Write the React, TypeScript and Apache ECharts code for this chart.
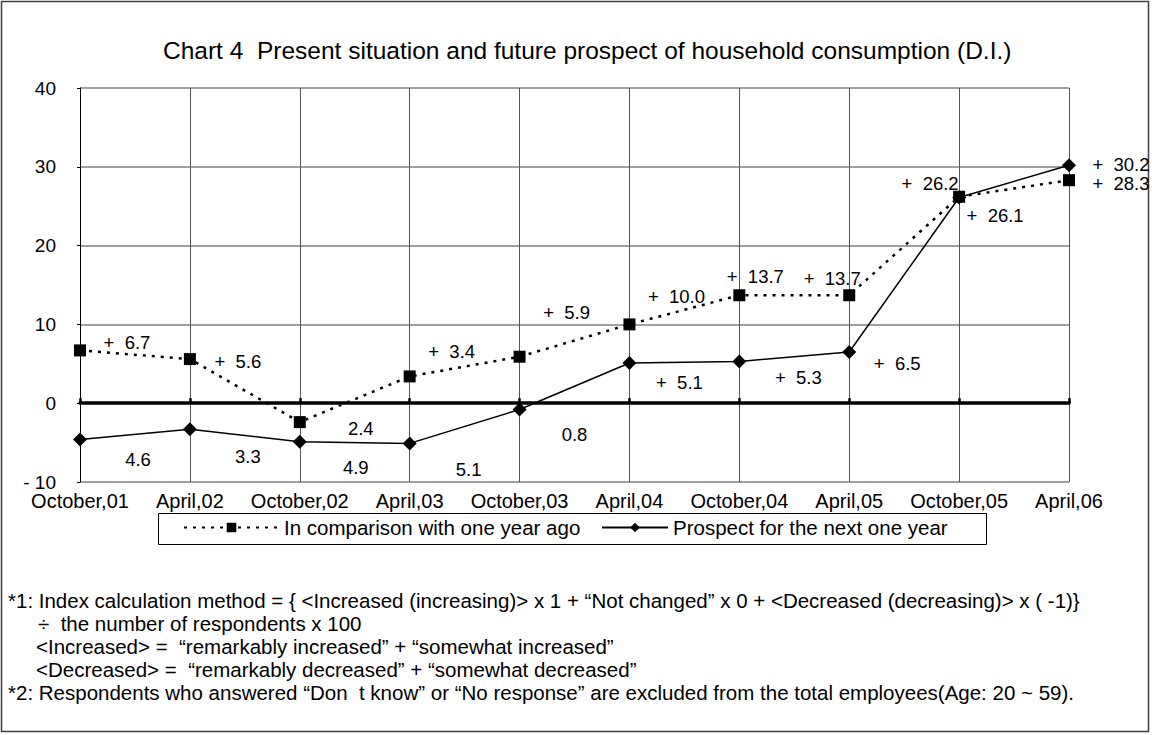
import React, { useEffect, useRef } from "react";
import * as echarts from "echarts";

const categories = [
  "October,01", "April,02", "October,02", "April,03", "October,03",
  "April,04", "October,04", "April,05", "October,05", "April,06",
];
const comparisonValues = [6.7, 5.6, -2.4, 3.4, 5.9, 10.0, 13.7, 13.7, 26.2, 28.3];
const prospectValues = [-4.6, -3.3, -4.9, -5.1, -0.8, 5.1, 5.3, 6.5, 26.1, 30.2];
const seriesNames = ["In comparison with one year ago", "Prospect for the next one year"];
const yTicks = { min: -10, max: 40, interval: 10 };

// label offsets (style only)
const comparisonLabelOffsets = [
  [47, -8], [48, 2], [61, 6], [42, -25], [47, -44], [47, -28], [16, -19], [-17, -17], [-29, -13], [52, 3],
];
const prospectLabelOffsets = [
  [58, 20], [58, 27], [56, 26], [59, 26], [55, 25], [50, 19], [59, 16], [48, 12], [36, 18], [52, -1],
];

const titleText = "Chart 4  Present situation and future prospect of household consumption (D.I.)";
const footnotes = [
  "*1: Index calculation method = { <Increased (increasing)> x 1 + \u201cNot changed\u201d x 0 + <Decreased (decreasing)> x ( -1)}",
  "\u00f7  the number of respondents x 100",
  "<Increased> =  \u201cremarkably increased\u201d + \u201csomewhat increased\u201d",
  "<Decreased> =  \u201cremarkably decreased\u201d + \u201csomewhat decreased\u201d",
  "*2: Respondents who answered \u201cDon  t know\u201d or \u201cNo response\u201d are excluded from the total employees(Age: 20 ~ 59).",
];
const footnoteX = [8, 38, 36, 36, 8];

const FONT = "Liberation Sans, Arial, sans-serif";

function fmt(v: number) {
  return v >= 0 ? "+  " + v.toFixed(1) : Math.abs(v).toFixed(1);
}

export default function App() {
  const ref = useRef<HTMLDivElement>(null);
  useEffect(() => {
    if (!ref.current) return;
    const chart = echarts.init(ref.current, null, { renderer: "svg" });
    const labelBase = {
      show: true,
      position: "inside",
      color: "#000",
      fontSize: 18.5,
      fontFamily: FONT,
      formatter: (p: any) => fmt(p.value as number),
    };
    const legendText = { fontSize: 20.5, color: "#000", fontFamily: FONT };
    chart.setOption({
      animation: false,
      backgroundColor: "#fff",
      textStyle: { fontFamily: FONT },
      title: {
        text: titleText,
        left: 158,
        top: 33,
        textStyle: { fontSize: 24.5, fontWeight: "normal", color: "#000", fontFamily: FONT },
      },
      grid: { left: 80, right: 83, top: 88, bottom: 253, containLabel: false },
      legend: [
        {
          left: 183,
          top: 517,
          itemWidth: 95,
          itemHeight: 12,
          padding: 0,
          textStyle: legendText,
          data: [seriesNames[0]],
        },
        {
          left: 601,
          top: 517,
          itemWidth: 66,
          itemHeight: 12,
          padding: 0,
          textStyle: legendText,
          data: [seriesNames[1]],
        },
      ],
      xAxis: [
        {
          type: "category",
          data: categories,
          boundaryGap: false,
          position: "bottom",
          axisLine: { show: false, onZero: false },
          axisTick: { show: false },
          axisLabel: {
            color: "#000",
            fontSize: 20,
            lineHeight: 20,
            margin: 9,
            fontFamily: FONT,
            interval: 0,
          },
          splitLine: { show: true, lineStyle: { color: "#555", width: 1 } },
        },
        {
          type: "category",
          data: categories,
          boundaryGap: false,
          position: "top",
          axisLine: { show: true, onZero: true, lineStyle: { color: "#000", width: 3.5 } },
          axisTick: { show: true, length: 5, lineStyle: { color: "#000", width: 2.5 } },
          axisLabel: { show: false },
          splitLine: { show: false },
        },
      ],
      yAxis: {
        type: "value",
        min: yTicks.min,
        max: yTicks.max,
        interval: yTicks.interval,
        axisLine: { show: true, lineStyle: { color: "#000", width: 1 } },
        axisTick: { show: true, length: 3, lineStyle: { color: "#000" } },
        axisLabel: {
          color: "#000",
          fontSize: 19,
          lineHeight: 15,
          margin: 24,
          fontFamily: FONT,
          formatter: (v: number) => (v < 0 ? "- " + Math.abs(v) : String(v)),
        },
        splitLine: { show: true, lineStyle: { color: "#808080", width: 1.5 } },
      },
      series: [
        {
          name: seriesNames[0],
          type: "line",
          xAxisIndex: 0,
          data: comparisonValues.map((v, i) => ({
            value: v,
            label: { offset: comparisonLabelOffsets[i] },
          })),
          symbol: "rect",
          symbolSize: 12,
          lineStyle: { color: "#000", width: 2.5, type: [3, 6] },
          itemStyle: { color: "#000" },
          label: labelBase,
          z: 3,
        },
        {
          name: seriesNames[1],
          type: "line",
          xAxisIndex: 0,
          data: prospectValues.map((v, i) => ({
            value: v,
            label: { offset: prospectLabelOffsets[i] },
          })),
          symbol: "diamond",
          symbolSize: 14,
          lineStyle: { color: "#000", width: 1.5, type: "solid" },
          itemStyle: { color: "#000" },
          label: labelBase,
          z: 3,
        },
      ],
      graphic: [
        {
          type: "rect",
          shape: { x: 1.5, y: 1.5, width: 1147, height: 730 },
          style: { fill: "none", stroke: "#404040", lineWidth: 1.5 },
          silent: true,
        },
        {
          type: "rect",
          shape: { x: 158.5, y: 513.5, width: 828, height: 31 },
          style: { fill: "none", stroke: "#000", lineWidth: 1 },
          silent: true,
        },
        ...footnotes.map((t, i) => ({
          type: "text",
          x: footnoteX[i],
          y: 600 + i * 23,
          style: {
            text: t,
            fill: "#000",
            fontSize: 20.5,
            fontFamily: FONT,
            verticalAlign: "middle",
          },
          silent: true,
        })),
      ],
    });
    return () => chart.dispose();
  }, []);
  return (
    <div
      ref={ref}
      style={{ position: "fixed", left: 0, top: 0, width: 1152, height: 735 }}
    />
  );
}
